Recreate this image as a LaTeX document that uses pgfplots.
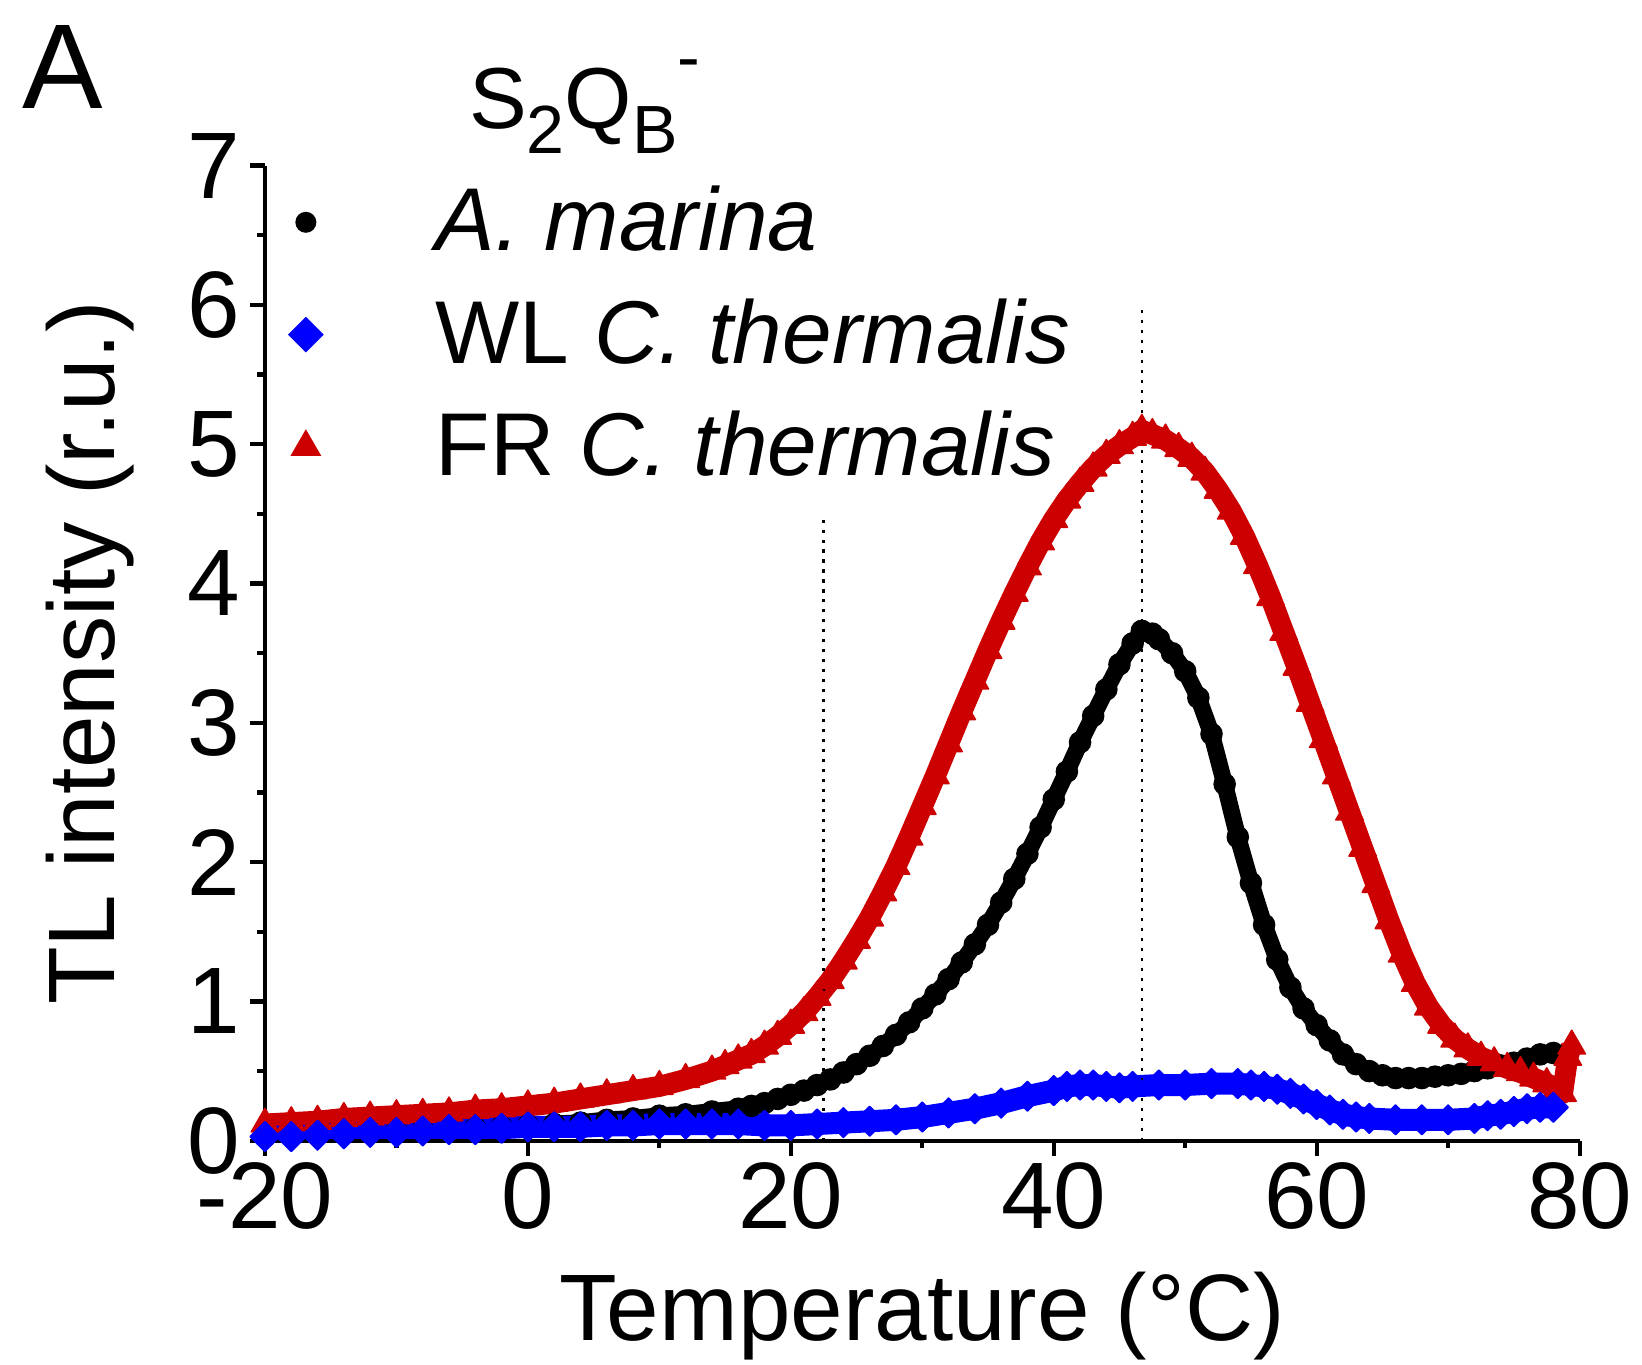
\documentclass[border=0pt]{standalone}
\usepackage{fontspec}
\setmainfont{Liberation Sans}
\usepackage{pgfplots}
\pgfplotsset{compat=1.18}
\definecolor{myred}{RGB}{204,0,0}
\definecolor{myblue}{RGB}{0,0,255}
\begin{document}
\begin{tikzpicture}
\useasboundingbox (-1.775cm,-1.502cm) rectangle (9.225cm,7.642cm);
\begin{axis}[
  at={(0cm,0cm)}, anchor=south west,
  scale only axis, width=8.807cm, height=6.533cm,
  xmin=-20, xmax=80, ymin=0, ymax=7,
  axis lines*=left,
  axis line style={line width=0.8pt, -},
  axis on top,
  xtick={-20,0,20,40,60,80}, ytick={0,1,2,3,4,5,6,7},
  minor x tick num=1, minor y tick num=1,
  tick align=outside,
  major tick length=0.1cm, minor tick length=0.05cm,
  every tick/.style={black, line width=0.8pt},
  /pgf/number format/assume math mode=true,
  tick label style={font=\fontsize{18}{21}\selectfont},
  xticklabel style={anchor=north, inner sep=0pt, yshift=-0.04cm},
  yticklabel style={anchor=east, inner sep=0pt, xshift=-0.06cm},
  xlabel={Temperature (°C)},
  ylabel={TL intensity (r.u.)},
  label style={font=\fontsize{18}{21}\selectfont},
  xlabel style={at={(axis description cs:0.5,-0.18)}, anchor=center},
  ylabel style={at={(axis description cs:-0.133,0.5)}, anchor=center},
  legend style={draw=none, fill=none, at={(axis cs:-20,7)}, anchor=north west,
    xshift=0.06cm, yshift=-0.13cm, inner sep=0pt,
    font=\fontsize{17}{20}\selectfont, row sep=7.6pt,
    nodes={inner sep=0pt}},
  legend cell align=left,
  legend image code/.code={\path (-0.2cm,-0.1cm) (0.863cm,0.1cm); \draw[#1] plot coordinates {(0cm,0cm)};},
]
% A. marina
\addplot[black, line width=3.2pt, line join=round, mark=*, mark size=2.0pt, mark options={line width=0.3pt, fill=black}, forget plot] coordinates {
(-20,0.03) (-18,0.04) (-16,0.05) (-14,0.05) (-12,0.06) (-10,0.07) (-8,0.08) (-6,0.08) (-4,0.09) (-2,0.1) (0,0.11) (2,0.12) (4,0.13) (6,0.15) (8,0.16) (10,0.18) (12,0.19) (14,0.21) (16,0.23) (17,0.25) (18,0.27) (19,0.3) (20,0.33) (21,0.36) (22,0.4) (23,0.44) (24,0.49) (25,0.55) (26,0.61) (27,0.68) (28,0.76) (29,0.85) (30,0.95) (31,1.05) (32,1.16) (33,1.28) (34,1.41) (35,1.55) (36,1.71) (37,1.88) (38,2.06) (39,2.25) (40,2.45) (41,2.65) (42,2.86) (43,3.05) (44,3.24) (45,3.42) (46,3.57) (46.7,3.66) (47.5,3.64) (48,3.6) (49,3.5) (50,3.37) (51,3.18) (52,2.92) (53,2.56) (54,2.18) (55,1.85) (56,1.55) (57,1.3) (58,1.1) (59,0.95) (60,0.83) (61,0.72) (62,0.62) (63,0.55) (64,0.5) (65,0.47) (66,0.45) (67,0.45) (68,0.45) (69,0.46) (70,0.47) (71,0.48) (72,0.5) (73,0.52) (74,0.54) (75,0.56) (76,0.59) (77,0.62) (78,0.63)
};
% FR C. thermalis
\addplot[myred, line width=4.0pt, line join=round, mark=triangle*, mark size=3.0pt, mark options={line width=0.3pt, fill=myred}, forget plot] coordinates {
(-20,0.12) (-18,0.13) (-16,0.14) (-14,0.16) (-12,0.17) (-10,0.18) (-8,0.19) (-6,0.2) (-4,0.22) (-2,0.23) (0,0.25) (2,0.27) (4,0.3) (6,0.33) (8,0.36) (10,0.39) (12,0.44) (14,0.5) (15,0.54) (16,0.58) (17,0.62) (18,0.68) (19,0.75) (20,0.83) (21,0.92) (22,1.03) (23,1.15) (24,1.29) (25,1.44) (26,1.6) (27,1.78) (28,1.97) (29,2.18) (30,2.4) (31,2.62) (32,2.85) (33,3.08) (34,3.3) (35,3.52) (36,3.73) (37,3.93) (38,4.12) (39,4.3) (40,4.46) (41,4.6) (42,4.72) (43,4.83) (44,4.92) (45,4.99) (46,5.05) (46.7,5.1) (47.5,5.07) (48.5,5.03) (49.5,4.97) (50.5,4.9) (51.5,4.8) (52.5,4.67) (53.5,4.52) (54.5,4.34) (55.5,4.13) (56.5,3.9) (57.5,3.65) (58.5,3.4) (59.5,3.14) (60.5,2.88) (61.5,2.62) (62.5,2.36) (63.5,2.1) (64.5,1.84) (65.5,1.58) (66.5,1.34) (67.5,1.13) (68.5,0.96) (69.5,0.83) (70.5,0.73) (71.5,0.66) (72.5,0.6) (73.5,0.56) (74.5,0.52) (75.5,0.49) (76.5,0.45) (77.5,0.41) (78.3,0.37) (78.7,0.34) (79.1,0.6) (79.4,0.68)
};
% WL C. thermalis
\addplot[myblue, line width=4.2pt, line join=round, mark=square*, mark size=2.0pt, mark options={rotate=45, line width=0.3pt, fill=myblue}, forget plot] coordinates {
(-20,0.03) (-18,0.03) (-16,0.04) (-14,0.05) (-12,0.06) (-10,0.06) (-8,0.07) (-6,0.08) (-4,0.08) (-2,0.09) (0,0.1) (2,0.1) (4,0.1) (6,0.11) (8,0.11) (10,0.12) (12,0.12) (14,0.12) (16,0.12) (18,0.11) (20,0.11) (22,0.12) (24,0.13) (26,0.14) (28,0.15) (30,0.17) (32,0.2) (34,0.23) (36,0.27) (38,0.32) (40,0.36) (41,0.39) (42,0.4) (43,0.4) (44,0.39) (45,0.38) (46,0.39) (48,0.4) (50,0.4) (52,0.41) (54,0.41) (55,0.4) (56,0.39) (57,0.37) (58,0.34) (59,0.3) (60,0.26) (61,0.22) (62,0.19) (63,0.17) (64,0.16) (66,0.15) (68,0.15) (70,0.15) (72,0.16) (73,0.18) (74,0.19) (75,0.21) (76,0.23) (77,0.24) (78,0.24)
};
% reference lines
\addplot[black, line width=0.5pt, dash pattern=on 0.6pt off 1.3pt, forget plot] coordinates {(22.5,0) (22.5,4.47)};
\addplot[black, line width=0.5pt, dash pattern=on 0.6pt off 1.3pt, forget plot] coordinates {(46.7,0) (46.7,6.0)};
% legend
\addlegendimage{only marks, mark=*, mark size=1.8pt, black}
\addlegendentry{\textit{A. marina}}
\addlegendimage{only marks, mark=square*, mark options={rotate=45}, mark size=2.2pt, myblue}
\addlegendentry{WL \textit{C. thermalis}}
\addlegendimage{only marks, mark=triangle*, mark size=3.0pt, myred}
\addlegendentry{FR \textit{C. thermalis}}
\end{axis}
\node[font=\fontsize{23}{26}\selectfont, inner sep=0pt] at (-1.354cm,7.19cm) {A};
\node[anchor=base west, inner sep=0pt, font=\fontsize{16.5}{19}\selectfont] at (1.361cm,6.78cm) {S\raisebox{-0.55ex}{\fontsize{13}{15}\selectfont 2}Q\raisebox{-0.55ex}{\fontsize{13}{15}\selectfont B}\raisebox{1.05ex}{\fontsize{13}{15}\selectfont -}};
\end{tikzpicture}
\end{document}
